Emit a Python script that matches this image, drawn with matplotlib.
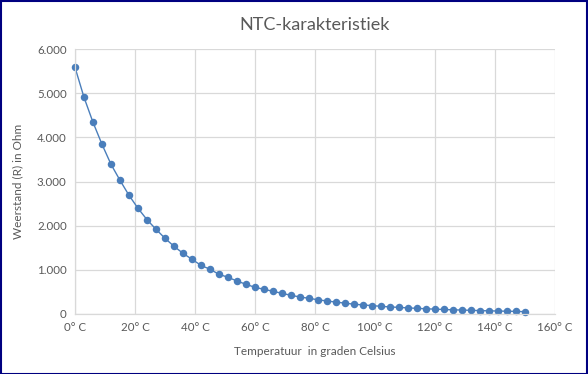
import matplotlib.pyplot as plt
from matplotlib.patches import Rectangle
from matplotlib.ticker import FuncFormatter, MultipleLocator

# temperature in degrees C, every 3 degrees
temps = list(range(0, 151, 3))
weerstand = [5585, 4906, 4340, 3842, 3389, 3027, 2687, 2393, 2135, 1918,
             1714, 1533, 1374, 1238, 1102, 1012, 899, 831, 747, 672,
             604, 559, 514, 468, 423, 385, 355, 322, 294, 270,
             245, 222, 205, 190, 174, 160, 150, 138, 128, 118,
             110, 102, 95, 89, 83, 77, 72, 67, 63, 59, 52]

plt.rcParams['font.family'] = ['Lato', 'DejaVu Sans']
txt = '#595959'
grid = '#d9d9d9'

fig = plt.figure(figsize=(5.88, 3.74), dpi=100)
ax = fig.add_axes([75/588, 60/374, 480/588, 265/374])

ax.plot(temps, weerstand, color='#4a7ebb', lw=1, marker='o', ms=5.4,
        markeredgewidth=0, clip_on=False)

ax.set_xlim(0, 160)
ax.set_ylim(0, 6000)
ax.xaxis.set_major_locator(MultipleLocator(20))
ax.yaxis.set_major_locator(MultipleLocator(1000))
ax.xaxis.set_major_formatter(FuncFormatter(lambda v, p: f'{int(v)}° C'))
ax.yaxis.set_major_formatter(FuncFormatter(lambda v, p: f'{int(v):,}'.replace(',', '.')))

ax.grid(True, color=grid, lw=0.9)
ax.set_axisbelow(True)
for s in ['top', 'right']:
    ax.spines[s].set_visible(False)
for s in ['left', 'bottom']:
    ax.spines[s].set_color(grid)
    ax.spines[s].set_linewidth(0.9)
ax.tick_params(length=0, labelsize=8.3, labelcolor=txt, pad=6)

ax.set_title('NTC-karakteristiek', fontsize=13, color=txt, pad=14)
ax.set_xlabel('Temperatuur  in graden Celsius', fontsize=8.5, color=txt, labelpad=9)
ax.set_ylabel('Weerstand (R) in Ohm', fontsize=8.5, color=txt, labelpad=10)

fig.patches.append(Rectangle((0.5/588, 0.5/374), 1 - 1.5/588, 1 - 1.5/374,
                             transform=fig.transFigure, fill=False,
                             edgecolor='#000080', lw=1.5))

fig.savefig('out.png', dpi=100)
